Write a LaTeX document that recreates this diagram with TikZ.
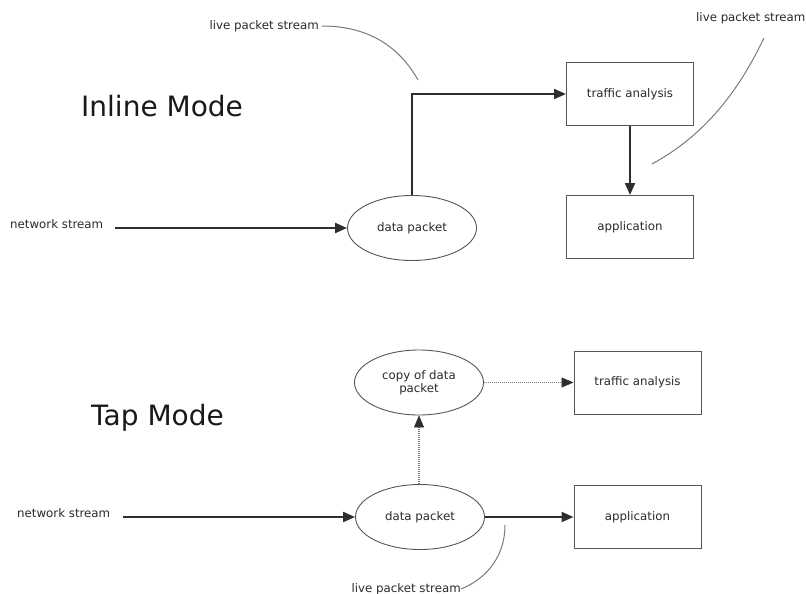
\documentclass[tikz,border=0pt]{standalone}
\usepackage{fontspec}
\setmainfont{DejaVu Sans}
\usetikzlibrary{arrows.meta,shapes.geometric}
\definecolor{lineC}{HTML}{2E2E2E}
\definecolor{boxC}{HTML}{555555}
\definecolor{curveC}{HTML}{7A7A7A}
\definecolor{txtC}{HTML}{2A2A2A}
\tikzset{
  lbl/.style={font=\fontsize{11.8}{13.5}\selectfont, text=txtC, inner sep=0pt},
  ttl/.style={font=\fontsize{28}{32}\selectfont, text=black!90, inner sep=0pt, anchor=base west},
  pkt/.style={ellipse, draw=boxC, line width=0.9pt, minimum width=129pt, minimum height=65pt, inner sep=0pt, lbl, align=center},
  boxn/.style={rectangle, draw=boxC, line width=1pt, minimum width=127pt, minimum height=63pt, inner sep=0pt, lbl},
  flow/.style={draw=lineC, line width=2pt, -{Triangle[length=12pt,width=10pt]}},
  dflow/.style={draw=curveC, line width=1.2pt, dash pattern=on 1pt off 1pt, -{Triangle[length=12pt,width=10pt,color=lineC,line width=0.5pt]}},
  callout/.style={draw=curveC, line width=1pt}
}
\begin{document}
\begin{tikzpicture}[x=1pt,y=-1pt]
\useasboundingbox (0,0) rectangle (806,594);
% ---------- Inline mode ----------
\node[ttl] (t1) at (81,117) {Inline Mode};
\node[lbl, anchor=west] (ns1) at (10,224) {network stream};
\coordinate (s1) at (115,228);
\node[pkt] (dp1) at (412,228) {data packet};
\node[boxn] (ta1) at (630,94) {traffic analysis};
\node[boxn] (ap1) at (630,227) {application};
\draw[flow] (s1) -- (dp1.west);
\draw[flow] (dp1.north) |- (ta1.west);
\draw[flow] (ta1.south) -- (ap1.north);
\node[lbl, anchor=east] (lp1) at (319,26) {live packet stream};
\coordinate (c1) at (418,80);
\draw[callout] ([xshift=3pt]lp1.east) .. controls (370,26) and (400,48) .. (c1);
\node[lbl, anchor=west] (lp2) at (696,18) {live packet stream};
\coordinate (c2) at (652,164);
\draw[callout] (764,38) .. controls (738,92) and (705,135) .. (c2);
% ---------- Tap mode ----------
\node[ttl] (t2) at (91,425) {Tap Mode};
\node[lbl, anchor=west] (ns2) at (17,513) {network stream};
\coordinate (s2) at (123,517);
\node[pkt] (dp2) at (420,517) {data packet};
\node[pkt] (cp) at (419,382.5) {copy of data\\packet};
\node[boxn] (ta2) at (637.5,382.5) {traffic analysis};
\node[boxn] (ap2) at (637.5,517) {application};
\draw[flow] (s2) -- (dp2.west);
\draw[flow] (dp2.east) -- (ap2.west);
\draw[dflow] (dp2.north -| cp.south) -- (cp.south);
\draw[dflow] (cp.east) -- (ta2.west);
\node[lbl, anchor=east] (lp3) at (461,589) {live packet stream};
\coordinate (c3) at (505,525);
\draw[callout] (lp3.east) .. controls (488,578) and (505,555) .. (c3);
\end{tikzpicture}
\end{document}
